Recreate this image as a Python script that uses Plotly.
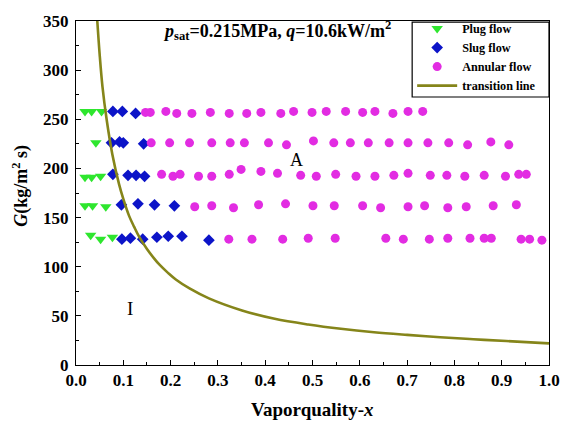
import plotly.graph_objects as go

# ---- data ----
plug_x = [0.019, 0.033, 0.054, 0.042, 0.019, 0.033, 0.052, 0.019, 0.035, 0.063, 0.031, 0.052, 0.077]
plug_G = [258, 258, 258, 226, 191, 191, 192, 162, 162, 161, 132, 128, 130]

slug_x = [0.078, 0.098, 0.126,
          0.075, 0.092, 0.100, 0.143,
          0.078, 0.110, 0.127, 0.145,
          0.096, 0.131, 0.166, 0.208,
          0.097, 0.115, 0.141, 0.171, 0.195, 0.224, 0.281]
slug_G = [258, 258, 256,
          226, 227, 226, 225,
          194, 193, 193, 192,
          163, 164, 163, 162,
          128, 129, 128, 130, 131, 131, 127]

ann_x = [0.147, 0.157, 0.190, 0.213, 0.245, 0.284, 0.324, 0.361, 0.391, 0.433, 0.460, 0.499, 0.529, 0.570, 0.606, 0.632, 0.670, 0.702, 0.733,
         0.159, 0.198, 0.240, 0.287, 0.326, 0.356, 0.407, 0.445, 0.502, 0.545, 0.580, 0.618, 0.662, 0.702, 0.744, 0.788, 0.828, 0.877, 0.915,
         0.181, 0.205, 0.220, 0.259, 0.287, 0.324, 0.349, 0.391, 0.426, 0.475, 0.508, 0.549, 0.592, 0.632, 0.672, 0.702, 0.749, 0.784, 0.822, 0.863, 0.908, 0.936, 0.952,
         0.251, 0.287, 0.333, 0.386, 0.443, 0.501, 0.546, 0.606, 0.644, 0.702, 0.737, 0.786, 0.825, 0.882, 0.931,
         0.323, 0.372, 0.437, 0.491, 0.548, 0.655, 0.692, 0.747, 0.786, 0.833, 0.863, 0.878, 0.941, 0.959, 0.985]
ann_G = [257, 257, 258, 256, 256, 257, 256, 256, 257, 256, 258, 257, 258, 258, 257, 258, 256, 258, 258,
         226, 226, 226, 226, 226, 226, 226, 224, 228, 226, 226, 226, 226, 226, 226, 226, 224, 227, 224,
         194, 192, 194, 192, 192, 194, 199, 197, 195, 193, 192, 194, 192, 192, 193, 195, 193, 193, 192, 193, 192, 194, 194,
         161, 162, 160, 163, 164, 162, 162, 162, 160, 161, 162, 160, 161, 162, 163,
         128, 128, 128, 129, 129, 129, 128, 128, 129, 129, 129, 129, 128, 128, 127]

trans_x = [0.045, 0.050, 0.056, 0.065, 0.077, 0.091, 0.100, 0.112, 0.123, 0.134, 0.150, 0.165, 0.176, 0.195, 0.211,
           0.240, 0.281, 0.351, 0.420, 0.491, 0.560, 0.630, 0.700, 0.770, 0.840, 0.910, 1.0]
trans_G = [350, 316, 283, 249, 214, 184, 169, 152, 140.5, 130, 118, 108.5, 102.3, 93.5, 87,
           77.9, 67.8, 55.5, 47, 41.2, 36.8, 33.3, 30.6, 28.2, 26.2, 24.4, 22.0]

x_ticks = [0.0, 0.1, 0.2, 0.3, 0.4, 0.5, 0.6, 0.7, 0.8, 0.9, 1.0]
y_ticks = [0, 50, 100, 150, 200, 250, 300, 350]

SERIF = "Liberation Serif"

fig = go.Figure()
fig.add_trace(go.Scatter(x=plug_x, y=plug_G, mode="markers", name="<b>Plug flow</b>",
                         marker=dict(symbol="triangle-down", size=10, color="#2EE62E")))
fig.add_trace(go.Scatter(x=slug_x, y=slug_G, mode="markers", name="<b>Slug flow</b>",
                         marker=dict(symbol="diamond", size=9, color="#0C14C8")))
fig.add_trace(go.Scatter(x=ann_x, y=ann_G, mode="markers", name="<b>Annular flow</b>",
                         marker=dict(symbol="circle", size=9, color="#E22CE2")))
fig.add_trace(go.Scatter(x=trans_x, y=trans_G, mode="lines", name="<b>transition line</b>",
                         line=dict(color="#85851A", width=2.6, shape="spline", smoothing=1.0)))

axis_common = dict(showline=True, linecolor="black", linewidth=1, mirror=True,
                   ticks="inside", ticklen=5, tickcolor="black", showgrid=False, zeroline=False,
                   tickfont=dict(family=SERIF, size=17, color="black"))

fig.update_xaxes(range=[0, 1.0], tickvals=x_ticks, ticktext=[f"<b>{v:.1f}</b>" for v in x_ticks],
                 minor=dict(ticks="inside", ticklen=3, tickcolor="black", dtick=0.05, tick0=0),
                 **axis_common)
fig.update_yaxes(range=[0, 350], tickvals=y_ticks, ticktext=[f"<b>{v}</b>" for v in y_ticks],
                 minor=dict(ticks="inside", ticklen=3, tickcolor="black", dtick=25, tick0=0),
                 ticklabelstandoff=3, **axis_common)

fig.update_layout(
    width=572, height=426,
    margin=dict(l=76, r=19, t=17, b=61),
    paper_bgcolor="white", plot_bgcolor="white",
    font=dict(family=SERIF, color="black"),
    showlegend=True,
    legend=dict(x=0.7107, y=1.02, xanchor="left", yanchor="top",
                bgcolor="rgba(0,0,0,0)", borderwidth=0,
                font=dict(family=SERIF, size=12.2, color="black"),
                itemwidth=40, tracegroupgap=0),
    shapes=[dict(type="rect", xref="paper", yref="paper", x0=0.7107, x1=1.0, y0=0.779, y1=0.997,
                 line=dict(color="black", width=1.2), fillcolor="rgba(0,0,0,0)", layer="above")],
    annotations=[
        dict(text="<b><i>p</i><sub>sat</sub>=0.215MPa, <i>q</i>=10.6kW/m<sup>2</sup></b>",
             xref="paper", yref="paper", x=0.18, y=0.972, xanchor="left", yanchor="middle",
             showarrow=False, font=dict(family=SERIF, size=18, color="black")),
        dict(text="A", xref="x", yref="y", x=0.466, y=209, showarrow=False,
             font=dict(family=SERIF, size=18, color="black")),
        dict(text="I", xref="x", yref="y", x=0.115, y=57, showarrow=False,
             font=dict(family=SERIF, size=19, color="black")),
        dict(text="<b><i>G</i>(kg/m<sup>2</sup> s)</b>", xref="paper", yref="paper",
             x=-0.117, y=0.52, textangle=-90, showarrow=False, xanchor="center", yanchor="middle",
             font=dict(family=SERIF, size=18, color="black")),
        dict(text="<b>Vaporquality-<i>x</i></b>", xref="paper", yref="paper",
             x=0.5, y=-0.13, showarrow=False, xanchor="center", yanchor="middle",
             font=dict(family=SERIF, size=19, color="black")),
    ],
)

fig.write_html("out.html")
